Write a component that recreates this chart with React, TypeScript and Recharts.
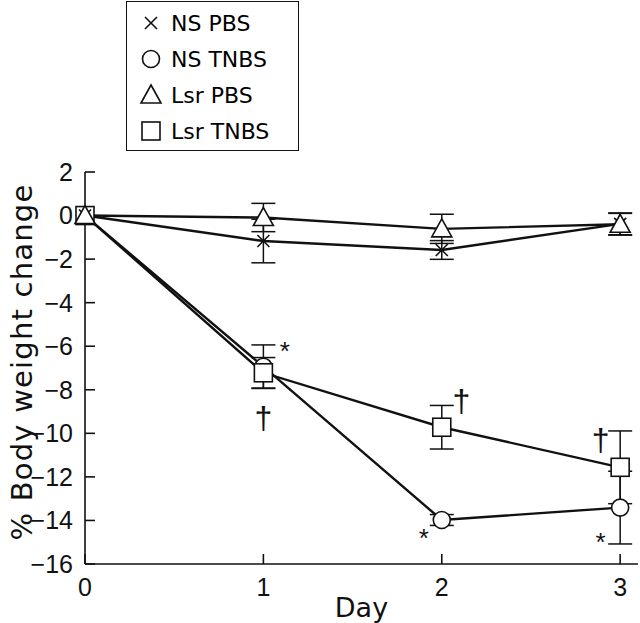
import { LineChart, Line, XAxis, YAxis, ErrorBar, ReferenceDot } from 'recharts'

const days = [0, 1, 2, 3]

const nsPbs = [0, -1.17, -1.58, -0.38]
const nsPbsErr = [0, 1.0, 0.43, 0.5]
const nsTnbs = [0, -6.94, -13.98, -13.41]
const nsTnbsErr = [0, 1.0, 0.25, 1.67]
const lsrPbs = [0, -0.09, -0.61, -0.4]
const lsrPbsErr = [0, 0.65, 0.67, 0.5]
const lsrTnbs = [0, -7.22, -9.72, -11.56]
const lsrTnbsErr = [0, 0.7, 1.0, 1.67]

const yTicks = [-16, -14, -12, -10, -8, -6, -4, -2, 0, 2]
const xTicks = [0, 1, 2, 3]

// significance marks: day position, value position, symbol
const markDays = [1.12, 1.0, 2.11, 1.9, 2.89, 2.89]
const markVals = [-6.2, -9.3, -8.5, -14.8, -10.3, -15.0]
const markText = ['*', '†', '†', '*', '†', '*']

const legendNames = ['NS PBS', 'NS TNBS', 'Lsr PBS', 'Lsr TNBS']

const FONT = '"Liberation Sans", Arial, sans-serif'
const WIDE = '"DejaVu Sans", sans-serif'

const data = days.map((d, i) => ({
  day: d,
  nsPbs: nsPbs[i],
  nsPbsErr: nsPbsErr[i],
  nsTnbs: nsTnbs[i],
  nsTnbsErr: nsTnbsErr[i],
  lsrPbs: lsrPbs[i],
  lsrPbsErr: lsrPbsErr[i],
  lsrTnbs: lsrTnbs[i],
  lsrTnbsErr: lsrTnbsErr[i],
}))

const marks = markDays.map((d, i) => ({ day: d, val: markVals[i], text: markText[i] }))

type Kind = 'x' | 'circle' | 'triangle' | 'square'

function Marker({ kind, cx, cy }: { kind: Kind; cx: number; cy: number }) {
  const st = { stroke: '#111', strokeWidth: 1.6, fill: '#fff' }
  if (kind === 'circle') return <circle cx={cx} cy={cy} r={8.5} {...st} />
  if (kind === 'square') return <rect x={cx - 9} y={cy - 9} width={18} height={18} {...st} />
  if (kind === 'triangle')
    return <polygon points={`${cx},${cy - 10} ${cx + 10},${cy + 8} ${cx - 10},${cy + 8}`} {...st} />
  return (
    <g stroke="#111" strokeWidth={1.6}>
      <line x1={cx - 6} y1={cy - 6} x2={cx + 6} y2={cy + 6} />
      <line x1={cx - 6} y1={cy + 6} x2={cx + 6} y2={cy - 6} />
    </g>
  )
}

const dotFor = (kind: Kind) => (p: any) => <Marker key={`${kind}-${p.index}`} kind={kind} cx={p.cx} cy={p.cy} />

const minus = (v: number) => String(v).replace('-', '\u2212')

function Legend() {
  const kinds: Kind[] = ['x', 'circle', 'triangle', 'square']
  return (
    <div
      style={{
        position: 'absolute',
        left: 126,
        top: 1,
        width: 173,
        height: 150,
        border: '1.5px solid #111',
        background: '#fff',
        fontFamily: WIDE,
        fontSize: 22,
        boxSizing: 'border-box',
      }}
    >
      {legendNames.map((n, i) => (
        <div key={n} style={{ position: 'absolute', left: 10, top: 5 + i * 36, height: 32, display: 'flex', alignItems: 'center' }}>
          <svg width={30} height={30} style={{ marginRight: 4 }}>
            <Marker kind={kinds[i]} cx={14} cy={15} />
          </svg>
          <span>{n}</span>
        </div>
      ))}
    </div>
  )
}

export default function App() {
  return (
    <div style={{ position: 'absolute', left: 0, top: 0, width: 640, height: 623, background: '#fff' }}>
      <LineChart width={640} height={623} data={data} margin={{ top: 172, right: 2, bottom: 0, left: 0 }}>
        <XAxis
          dataKey="day"
          type="number"
          domain={[0, 3.1]}
          ticks={xTicks}
          height={59}
          stroke="#111"
          strokeWidth={1.6}
          tickSize={-10}
          tickMargin={24}
          tick={{ fill: '#111', fontSize: 25, fontFamily: FONT }}
          label={{ value: 'Day', position: 'insideBottom', offset: 6, fill: '#111', fontSize: 27, fontFamily: WIDE }}
        />
        <YAxis
          type="number"
          domain={[-16, 2]}
          ticks={yTicks}
          width={85}
          stroke="#111"
          strokeWidth={1.6}
          tickSize={-10}
          tickMargin={22}
          tickFormatter={minus}
          tick={{ fill: '#111', fontSize: 25, fontFamily: FONT }}
          label={{
            content: (props: any) => {
              const vb = props.viewBox
              const x = 22
              const y = vb.y + vb.height / 2 - 6
              return (
                <text
                  x={x}
                  y={y}
                  transform={`rotate(-90 ${x} ${y})`}
                  textAnchor="middle"
                  dominantBaseline="central"
                  fill="#111"
                  fontSize={29}
                  letterSpacing={1.2}
                  fontFamily={WIDE}
                >
                  % Body weight change
                </text>
              )
            },
          }}
        />
        <Line dataKey="nsTnbs" stroke="#111" strokeWidth={2.4} isAnimationActive={false} dot={dotFor('circle')} activeDot={false}>
          <ErrorBar dataKey="nsTnbsErr" width={12} stroke="#111" strokeWidth={1.5} />
        </Line>
        <Line dataKey="lsrTnbs" stroke="#111" strokeWidth={2.4} isAnimationActive={false} dot={dotFor('square')} activeDot={false}>
          <ErrorBar dataKey="lsrTnbsErr" width={12} stroke="#111" strokeWidth={1.5} />
        </Line>
        <Line dataKey="nsPbs" stroke="#111" strokeWidth={2.4} isAnimationActive={false} dot={dotFor('x')} activeDot={false}>
          <ErrorBar dataKey="nsPbsErr" width={12} stroke="#111" strokeWidth={1.5} />
        </Line>
        <Line dataKey="lsrPbs" stroke="#111" strokeWidth={2.4} isAnimationActive={false} dot={dotFor('triangle')} activeDot={false}>
          <ErrorBar dataKey="lsrPbsErr" width={12} stroke="#111" strokeWidth={1.5} />
        </Line>
        {marks.map((m, i) => (
          <ReferenceDot
            key={i}
            x={m.day}
            y={m.val}
            r={0}
            stroke="none"
            label={{
              value: m.text,
              position: 'center',
              fill: '#111',
              fontSize: m.text === '†' ? 32 : 26,
              fontFamily: FONT,
            }}
          />
        ))}
      </LineChart>
      <Legend />
    </div>
  )
}
